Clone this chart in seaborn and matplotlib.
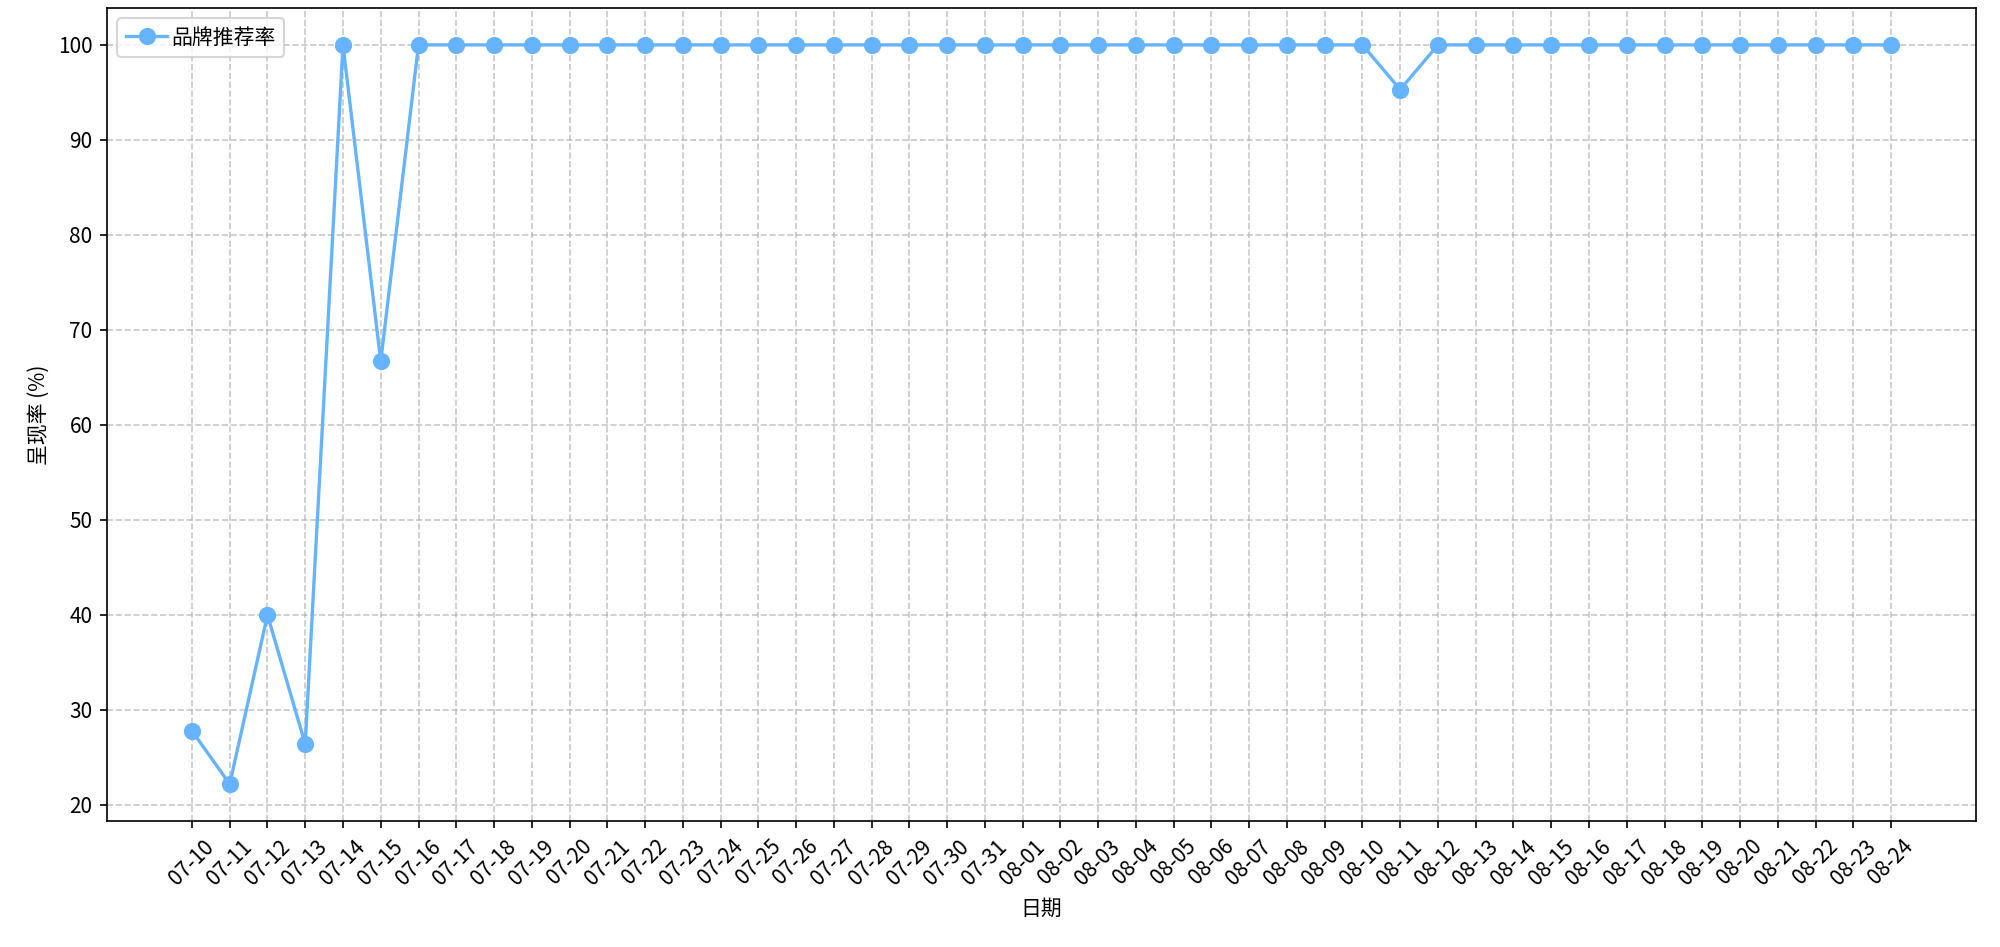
import pandas as pd
import matplotlib
matplotlib.use('Agg')
import matplotlib.pyplot as plt
import seaborn as sns

plt.rcParams['font.family'] = ['Noto Sans CJK SC', 'DejaVu Sans']
plt.rcParams['axes.unicode_minus'] = False

# Dates (MM-DD) and brand recommendation rate (%)
dates = ['07-10', '07-11', '07-12', '07-13', '07-14', '07-15', '07-16', '07-17',
         '07-18', '07-19', '07-20', '07-21', '07-22', '07-23', '07-24', '07-25',
         '07-26', '07-27', '07-28', '07-29', '07-30', '07-31', '08-01', '08-02',
         '08-03', '08-04', '08-05', '08-06', '08-07', '08-08', '08-09', '08-10',
         '08-11', '08-12', '08-13', '08-14', '08-15', '08-16', '08-17', '08-18',
         '08-19', '08-20', '08-21', '08-22', '08-23', '08-24']
rates = [27.8, 22.2, 40.0, 26.4, 100, 66.7, 100, 100,
         100, 100, 100, 100, 100, 100, 100, 100,
         100, 100, 100, 100, 100, 100, 100, 100,
         100, 100, 100, 100, 100, 100, 100, 100,
         95.3, 100, 100, 100, 100, 100, 100, 100,
         100, 100, 100, 100, 100, 100]

df = pd.DataFrame({'日期': dates, '呈现率': rates})

fig, ax = plt.subplots(figsize=(2000 / 150, 947 / 150), dpi=150)
sns.lineplot(data=df, x='日期', y='呈现率', marker='o', color='#66b3ff',
             markeredgecolor='#66b3ff', markersize=7.5, linewidth=1.6,
             label='品牌推荐率', ax=ax)

ax.set_xlabel('日期')
ax.set_ylabel('呈现率 (%)')
ax.grid(True, linestyle='--', alpha=0.7)
plt.xticks(rotation=45)
ax.legend(loc='upper left', handletextpad=0.2)

plt.subplots_adjust(left=0.0535, right=0.988, bottom=0.133, top=0.9916)
plt.savefig('out.png', dpi=150)
